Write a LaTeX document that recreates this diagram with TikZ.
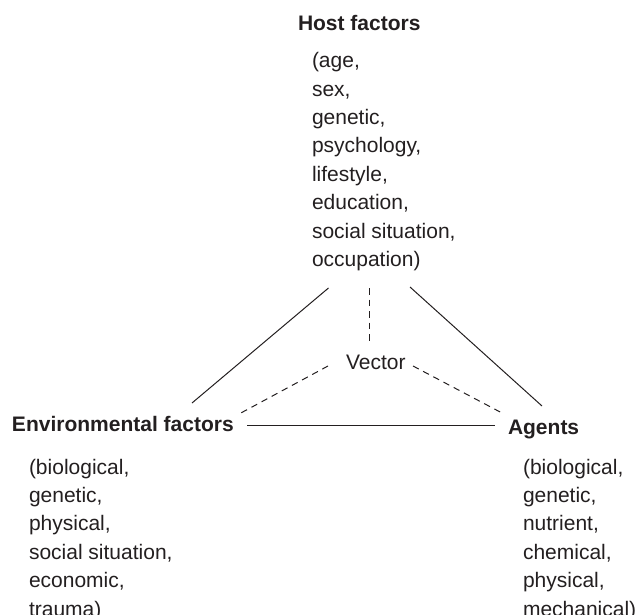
\documentclass[tikz,border=0pt]{standalone}
\usepackage{fontspec}
\setmainfont{Liberation Sans}
\definecolor{ink}{HTML}{231F20}
\begin{document}
\begin{tikzpicture}[x=1pt,y=-1pt,
  every node/.style={inner sep=0pt, outer sep=0pt, text=ink},
  heading/.style={font=\fontsize{21}{28.4}\selectfont\bfseries, anchor=base west},
  items/.style={font=\fontsize{21}{28.4}\selectfont, align=left, anchor=base west},
  link/.style={draw=ink, line width=1pt},
  vlink/.style={draw=ink, line width=1pt, dash pattern=on 6.5pt off 5pt}]
\useasboundingbox (0,0) rectangle (637,615);

% the three corners of the triangle (lists are placed by their last baseline)
\node[heading] (host) at (298,31) {Host factors};
\node[items] (hostlist) at (312,266.5) {(age,\\sex,\\genetic,\\psychology,\\lifestyle,\\education,\\social situation,\\occupation)};
\node[heading] (env) at (12,431) {Environmental factors};
\node[items] (envlist) at (29,616) {(biological,\\genetic,\\physical,\\social situation,\\economic,\\trauma)};
\node[heading] (agents) at (508,434) {Agents};
\node[items] (agentlist) at (523,616) {(biological,\\genetic,\\nutrient,\\chemical,\\physical,\\mechanical)};
\node[items] (vector) at (346,369) {Vector};

% end points of the links
\coordinate (hostL) at (328.5,288);
\coordinate (hostM) at (369,288);
\coordinate (hostR) at (410,287);
\coordinate (envT) at (192,403);
\coordinate (envR) at (247,425.5);
\coordinate (envV) at (239,414);
\coordinate (agL) at (495,425.5);
\coordinate (agT) at (542,406);
\coordinate (agV) at (503,413.5);
\coordinate (vecT) at (369,343);
\coordinate (vecL) at (328,366);
\coordinate (vecR) at (413,366);

% solid links between host, environment and agents
\draw[link] (hostL) -- (envT);
\draw[link] (hostR) -- (agT);
\draw[link] (envR) -- (agL);

% dashed links through the vector
\draw[vlink] (hostM) -- (vecT);
\draw[vlink] (vecL) -- (envV);
\draw[vlink] (vecR) -- (agV);
\end{tikzpicture}
\end{document}
